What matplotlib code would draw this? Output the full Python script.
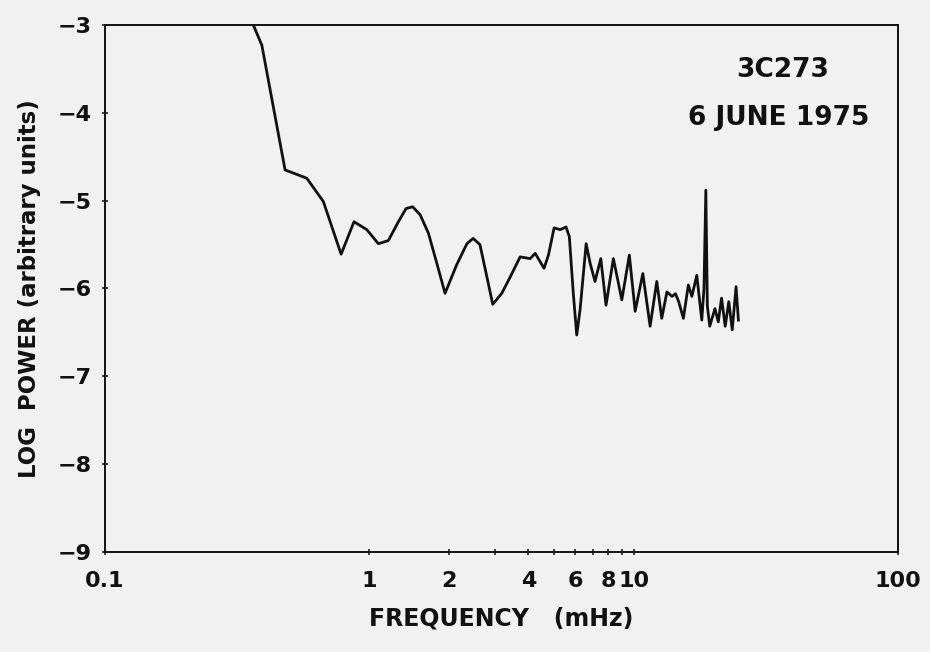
import matplotlib
matplotlib.use("Agg")
import matplotlib.pyplot as plt

# power spectrum of 3C273 (freq in mHz, log power)
freq = [0.364, 0.392, 0.48, 0.58, 0.67, 0.782, 0.875, 0.978, 1.082, 1.18,
        1.288, 1.377, 1.459, 1.556, 1.673, 1.799, 1.934, 2.14, 2.34, 2.47,
        2.62, 2.74, 2.93, 3.17, 3.41, 3.72, 4.06, 4.24, 4.58, 4.76,
        5.0, 5.27, 5.55, 5.71, 5.91, 6.09, 6.27, 6.61, 6.84, 7.14,
        7.51, 7.86, 8.38, 9.02, 9.63, 10.13, 10.83, 11.54, 12.23, 12.77,
        13.36, 13.97, 14.4, 14.8, 15.42, 16.1, 16.6, 17.33, 18.1, 18.45,
        18.75, 19.0, 19.4, 20.3, 20.9, 21.5, 22.2, 22.9, 23.6, 24.4,
        24.9]
log_power = [-3.0, -3.23, -4.65, -4.745, -5.01, -5.61, -5.24, -5.33, -5.49, -5.455,
             -5.24, -5.09, -5.07, -5.16, -5.37, -5.71, -6.055, -5.73, -5.49, -5.43,
             -5.50, -5.77, -6.18, -6.055, -5.87, -5.64, -5.66, -5.60, -5.77, -5.62,
             -5.31, -5.33, -5.30, -5.41, -6.055, -6.53, -6.24, -5.49, -5.71, -5.92,
             -5.66, -6.19, -5.66, -6.13, -5.62, -6.26, -5.83, -6.43, -5.92, -6.34,
             -6.04, -6.09, -6.06, -6.15, -6.34, -5.96, -6.09, -5.85, -6.36, -6.0,
             -4.88, -6.2, -6.43, -6.23, -6.38, -6.11, -6.43, -6.15, -6.47, -5.98,
             -6.36]

xticks = [0.1, 1, 2, 3, 4, 5, 6, 7, 8, 9, 10, 100]
xtick_labels = ["0.1", "1", "2", "", "4", "", "6", "", "8", "", "10", "100"]
yticks = [-9, -8, -7, -6, -5, -4, -3]

bg = "#f1f1f1"
ink = "#111111"

fig = plt.figure(figsize=(9.3, 6.52), dpi=100, facecolor=bg)
ax = fig.add_axes([0.1129, 0.1534, 0.8527, 0.8083], facecolor=bg)

ax.plot(freq, log_power, color=ink, lw=2.0, solid_joinstyle="round")

ax.set_xscale("log")
ax.set_xlim(0.1, 100)
ax.set_ylim(-9, -3)
ax.minorticks_off()
ax.set_xticks(xticks)
ax.set_xticklabels(xtick_labels)
ax.set_yticks(yticks)

ax.tick_params(axis="both", direction="inout", length=5, width=1.1,
               colors=ink, labelsize=16)
ax.tick_params(axis="x", pad=11)
ax.tick_params(axis="y", pad=7)
for lab in ax.get_xticklabels() + ax.get_yticklabels():
    lab.set_fontweight("bold")
for s in ax.spines.values():
    s.set_linewidth(1.4)
    s.set_color(ink)

ax.set_xlabel("FREQUENCY   (mHz)", fontsize=17, fontweight="bold",
              color=ink, labelpad=11)
ax.set_ylabel("LOG  POWER (arbitrary units)", fontsize=16.5, fontweight="bold",
              color=ink, labelpad=12)

ax.text(0.854, 0.915, "3C273", transform=ax.transAxes, fontsize=19,
        fontweight="bold", ha="center", va="center", color=ink)
ax.text(0.849, 0.824, "6 JUNE 1975", transform=ax.transAxes, fontsize=19,
        fontweight="bold", ha="center", va="center", color=ink)

plt.savefig("out.png", dpi=100, facecolor=bg)
